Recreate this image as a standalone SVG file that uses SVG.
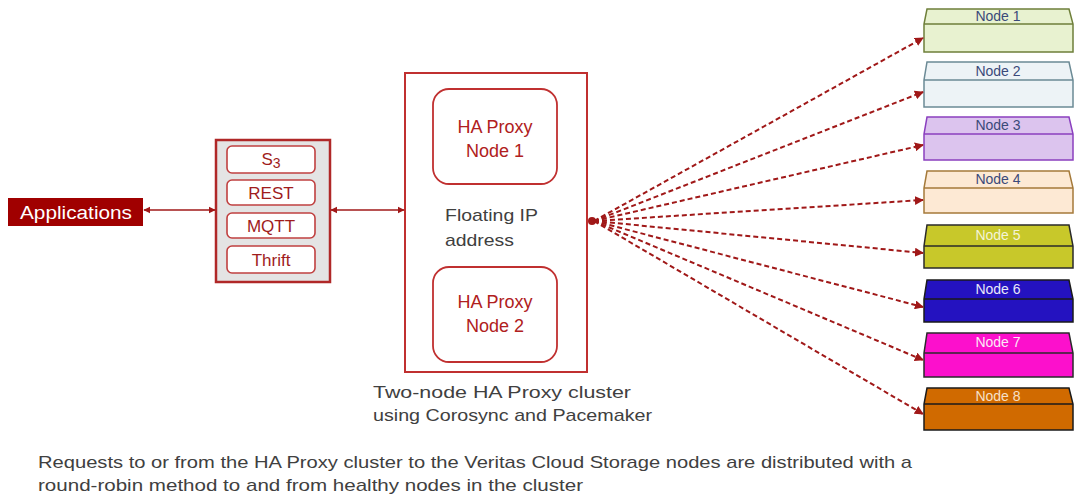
<svg xmlns="http://www.w3.org/2000/svg" width="1078" height="495" viewBox="0 0 1078 495">
<defs>
<marker id="ah" viewBox="0 0 10 10" refX="9" refY="5" markerWidth="4.5" markerHeight="4.5" orient="auto-start-reverse" markerUnits="strokeWidth">
<path d="M0,0 L10,5 L0,10 Z" fill="#a01818"/>
</marker>
<marker id="ahd" viewBox="0 0 10 10" refX="9" refY="5" markerWidth="4.5" markerHeight="4.5" orient="auto" markerUnits="strokeWidth">
<path d="M0,0 L10,5 L0,10 Z" fill="#a01818"/>
</marker>
</defs>
<style>
text{font-family:"Liberation Sans",Arial,sans-serif}
.solid{stroke:#a01818;stroke-width:1.6;fill:none}
.dash{stroke:#a01818;stroke-width:2;fill:none;stroke-dasharray:5 3}
.proto rect.inner{fill:#fff;stroke:#c04040;stroke-width:1.6}
.pt{fill:#a01c1c;font-size:17px;text-anchor:middle}
.hat{fill:#b02020;font-size:18px;text-anchor:middle}
.gray{fill:#404040;font-size:17px}
.nt{font-size:14px;text-anchor:middle}
</style>
<rect width="1078" height="495" fill="#fff"/>

<g id="applications">
<rect x="8" y="198" width="135" height="28" fill="#a00000"/>
<text x="76" y="218.5" fill="#fff" font-size="18" text-anchor="middle" textLength="112" lengthAdjust="spacingAndGlyphs">Applications</text>
</g>

<g id="protocols" class="proto">
<rect x="216" y="140" width="114" height="142" fill="#e4e4e4" stroke="#b02828" stroke-width="2.5"/>
<rect class="inner" x="227" y="146" width="88" height="27" rx="5"/>
<text class="pt" x="271" y="165">S<tspan font-size="14" dy="3">3</tspan></text>
<rect class="inner" x="227" y="180" width="88" height="25" rx="5"/>
<text class="pt" x="271" y="198.5">REST</text>
<rect class="inner" x="227" y="213" width="88" height="25" rx="5"/>
<text class="pt" x="271" y="231.5">MQTT</text>
<rect class="inner" x="227" y="246" width="88" height="27" rx="5"/>
<text class="pt" x="271" y="265.5">Thrift</text>
</g>

<g id="cluster">
<rect x="405" y="73" width="182" height="299" fill="#fff" stroke="#c03030" stroke-width="2"/>
<text class="gray" x="445" y="221" font-size="18" fill="#555" textLength="93" lengthAdjust="spacingAndGlyphs">Floating IP</text>
<text class="gray" x="445" y="246" font-size="18" fill="#555" textLength="69" lengthAdjust="spacingAndGlyphs">address</text>
<text class="gray" x="373" y="398" textLength="258" lengthAdjust="spacingAndGlyphs">Two-node HA Proxy cluster</text>
<text class="gray" x="373" y="421" textLength="279" lengthAdjust="spacingAndGlyphs">using Corosync and Pacemaker</text>
</g>
<g id="haproxy1">
<rect x="433" y="89" width="124" height="95" rx="16" fill="#fff" stroke="#c03030" stroke-width="1.8"/>
<text class="hat" x="495" y="133">HA Proxy</text>
<text class="hat" x="495" y="157">Node 1</text>
</g>
<g id="haproxy2">
<rect x="433" y="267" width="124" height="95" rx="16" fill="#fff" stroke="#c03030" stroke-width="1.8"/>
<text class="hat" x="495" y="308">HA Proxy</text>
<text class="hat" x="495" y="332">Node 2</text>
</g>

<g id="node1"><path d="M927,9 L1069,9 L1073,24 L1073,52 L924,52 L924,24 Z M924,24 L1073,24" fill="#e8f2d0" stroke="#6e7f3a" stroke-width="1.5"/><text class="nt" x="998" y="21" fill="#3b4a7a">Node 1</text></g>
<g id="node2"><path d="M927,62 L1069,62 L1073,80 L1073,107 L924,107 L924,80 Z M924,80 L1073,80" fill="#edf3f6" stroke="#6b8a95" stroke-width="1.5"/><text class="nt" x="998" y="76" fill="#3b4a7a">Node 2</text></g>
<g id="node3"><path d="M927,117 L1069,117 L1073,134 L1073,160 L924,160 L924,134 Z M924,134 L1073,134" fill="#dcc4ee" stroke="#8a3fbf" stroke-width="1.5"/><text class="nt" x="998" y="130" fill="#3b4a7a">Node 3</text></g>
<g id="node4"><path d="M927,171 L1069,171 L1073,188 L1073,213 L924,213 L924,188 Z M924,188 L1073,188" fill="#fde9d4" stroke="#a57a3a" stroke-width="1.5"/><text class="nt" x="998" y="184" fill="#3b4a7a">Node 4</text></g>
<g id="node5"><path d="M927,225 L1069,225 L1073,246 L1073,268 L924,268 L924,246 Z M924,246 L1073,246" fill="#c8c82a" stroke="#2a2a2a" stroke-width="1.5"/><text class="nt" x="998" y="240" fill="#f4f4d8">Node 5</text></g>
<g id="node6"><path d="M927,280 L1069,280 L1073,299 L1073,322 L924,322 L924,299 Z M924,299 L1073,299" fill="#2412c0" stroke="#1a1a1a" stroke-width="1.5"/><text class="nt" x="998" y="294" fill="#e8e8f8">Node 6</text></g>
<g id="node7"><path d="M927,333 L1069,333 L1073,353 L1073,377 L924,377 L924,353 Z M924,353 L1073,353" fill="#fc10cc" stroke="#2a2a2a" stroke-width="1.5"/><text class="nt" x="998" y="347" fill="#fbe8f6">Node 7</text></g>
<g id="node8"><path d="M927,388 L1069,388 L1073,404 L1073,430 L924,430 L924,404 Z M924,404 L1073,404" fill="#d06a00" stroke="#1a1a1a" stroke-width="1.5"/><text class="nt" x="998" y="401" fill="#f6e0c8">Node 8</text></g>

<g id="connectors">
<line class="solid" x1="144" y1="210" x2="215" y2="210" marker-start="url(#ah)" marker-end="url(#ah)"/>
<line class="solid" x1="331" y1="210" x2="404" y2="210" marker-start="url(#ah)" marker-end="url(#ah)"/>
<circle cx="592" cy="221" r="4" fill="#a01818"/>
<line class="dash" x1="594" y1="221" x2="923" y2="38" marker-end="url(#ahd)"/>
<line class="dash" x1="594" y1="221" x2="923" y2="92" marker-end="url(#ahd)"/>
<line class="dash" x1="594" y1="221" x2="923" y2="145" marker-end="url(#ahd)"/>
<line class="dash" x1="594" y1="221" x2="923" y2="200" marker-end="url(#ahd)"/>
<line class="dash" x1="594" y1="221" x2="923" y2="253" marker-end="url(#ahd)"/>
<line class="dash" x1="594" y1="221" x2="923" y2="307" marker-end="url(#ahd)"/>
<line class="dash" x1="594" y1="221" x2="923" y2="360" marker-end="url(#ahd)"/>
<line class="dash" x1="594" y1="221" x2="923" y2="414" marker-end="url(#ahd)"/>
</g>

<g id="footnote">
<text class="gray" x="38" y="468" textLength="874" lengthAdjust="spacingAndGlyphs">Requests to or from the HA Proxy cluster to the Veritas Cloud Storage nodes are distributed with a</text>
<text class="gray" x="38" y="491" textLength="545" lengthAdjust="spacingAndGlyphs">round-robin method to and from healthy nodes in the cluster</text>
</g>
</svg>
